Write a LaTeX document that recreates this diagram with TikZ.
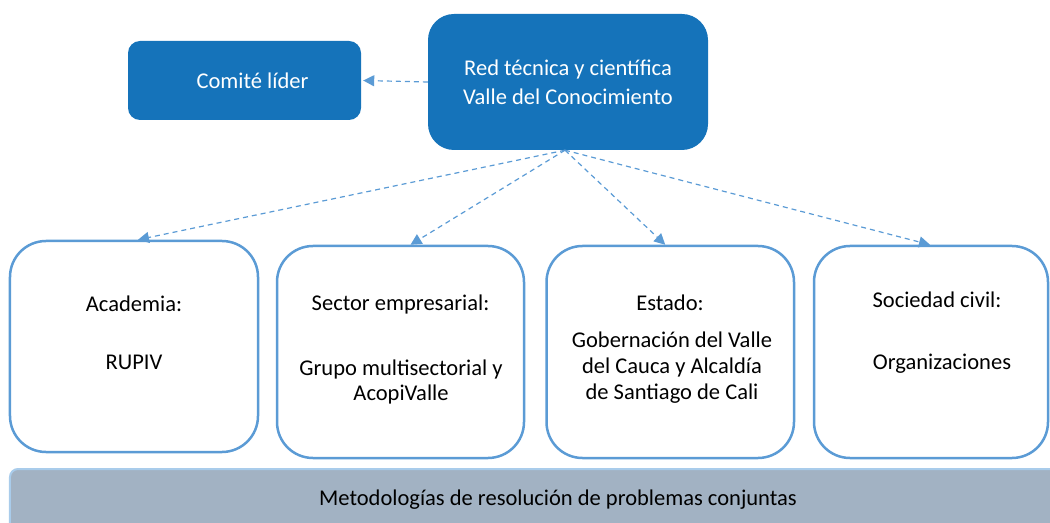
\documentclass[tikz,border=0pt]{standalone}
\usepackage{fontspec}
\setmainfont{Carlito}
\usetikzlibrary{arrows.meta,calc}
\definecolor{darkblue}{HTML}{1573BA}
\definecolor{lineblue}{HTML}{5B9BD5}
\definecolor{barfill}{HTML}{A2B2C3}
\definecolor{barline}{HTML}{A9CCEB}
\begin{document}
\begin{tikzpicture}[x=1bp,y=-1bp,
  every node/.style={font=\fontsize{22.6}{26}\selectfont, inner sep=0pt},
  topbox/.style={draw=none, fill=darkblue, text=white, align=center},
  sectorbox/.style={draw=lineblue, line width=2.5bp, fill=white, rounded corners=36bp},
  link/.style={draw=lineblue, line width=1.2bp, dash pattern=on 5bp off 4bp, -{Triangle[length=11bp,width=11bp]}},
  lbl/.style={align=center, text=black},
  one/.style={text height=18bp, text depth=2bp}
]
\useasboundingbox (0,0) rectangle (1050,523);
\clip (0,0) rectangle (1050,523);

% top boxes
\node[topbox, rounded corners=12bp, minimum width=233bp, minimum height=79bp] (comite) at (244.5,80.5) {\hspace*{16bp}Comité líder};
\node[topbox, rounded corners=26bp, minimum width=280bp, minimum height=136bp, font=\fontsize{22.6}{29}\selectfont] (red) at (568,82) {Red técnica y científica\\Valle del Conocimiento};

% sector boxes
\node[sectorbox, minimum width=248bp, minimum height=211bp] (aca) at (134,346.5) {};
\node[sectorbox, minimum width=247bp, minimum height=212bp] (sec) at (400.5,352) {};
\node[sectorbox, minimum width=247.5bp, minimum height=212bp] (est) at (670.25,352) {};
\node[sectorbox, minimum width=234bp, minimum height=212bp] (soc) at (931,352) {};

\node[lbl, one] (acaT) at (134,304) {Academia:};
\node[lbl, one] (acaB) at (134,361) {RUPIV};
\node[lbl, one] (secT) at (400.5,303) {Sector empresarial:};
\node[lbl] (secB) at (401,382) {Grupo multisectorial y\\AcopiValle};
\node[lbl, one] (estT) at (670,303) {Estado:};
\node[lbl] (estB) at (672,368) {Gobernación del Valle\\del Cauca y Alcaldía\\de Santiago de Cali};
\node[lbl, one] (socT) at (937,300) {Sociedad civil:};
\node[lbl, one] (socB) at (942,361) {Organizaciones};

% bottom bar
\node[draw=barline, line width=2bp, fill=barfill, rounded corners=8bp, minimum width=1100bp, minimum height=72bp] (bar) at (560,505) {};
\node[lbl, one] (barT) at (558,497) {Metodologías de resolución de problemas conjuntas};

% connectors
\coordinate (src) at ($(red.south)+(-3,0)$);
\draw[link] (red.west) -- ($(comite.east)+(2,0)$);
\draw[link] (src) -- ($(aca.north)+(4,0)$);
\draw[link] (src) -- ($(sec.north)+(10,0)$);
\draw[link] (src) -- ($(est.north)+(-5,0)$);
\draw[link] (src) -- ($(soc.north)+(-1,0)$);
\end{tikzpicture}
\end{document}
